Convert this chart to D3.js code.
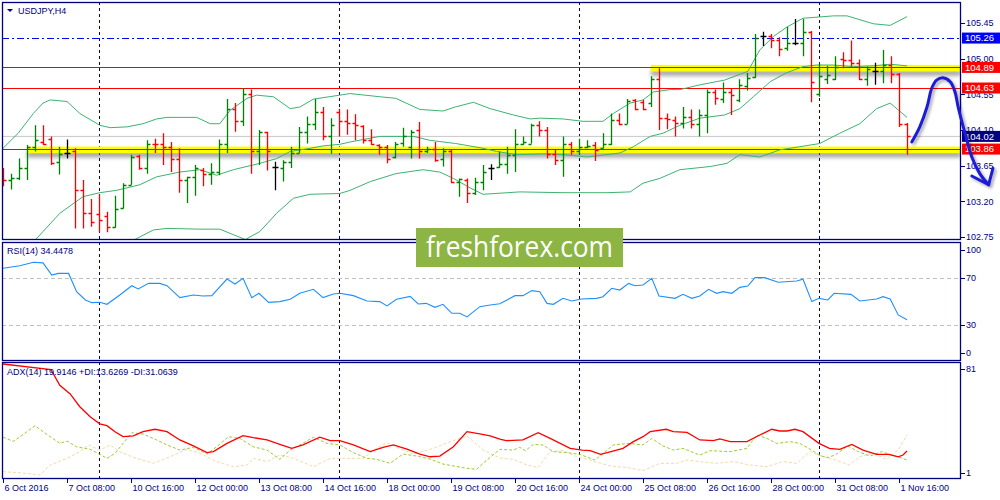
<!DOCTYPE html>
<html>
<head>
<meta charset="utf-8">
<script src="https://cdn.jsdelivr.net/npm/d3@7"></script>
<style>
body { margin: 0; background: #fff; }
svg text { font-family: "Liberation Sans", Arial, sans-serif; font-size: 9px; fill: #000080; }
</style>
</head>
<body>
<svg id="chart" width="1000" height="500"></svg>
<script>
// USDJPY H4, bars from 6 Oct 2016 00:00
var openP = [
103.60,103.47,103.49,103.62,103.89,103.95,103.99,103.70,103.81,103.83,
103.34,103.06,103.04,103.01,102.88,103.12,103.41,103.77,103.62,103.93,
103.93,103.89,103.73,103.47,103.51,103.60,103.55,103.57,103.92,104.37,
104.21,104.56,103.83,104.07,103.64,103.62,103.70,103.81,104.07,104.18,
104.33,104.02,104.33,104.21,104.19,104.15,103.97,103.91,103.89,103.76,
103.94,103.89,104.10,103.83,103.86,103.73,103.83,103.44,103.47,103.31,
103.45,103.62,103.64,103.67,103.79,103.93,103.93,104.16,104.10,103.80,
103.72,103.92,103.83,103.89,103.91,103.87,103.92,104.23,104.18,104.48,
104.45,104.44,104.75,104.25,104.23,104.19,104.26,104.18,104.29,104.58,
104.49,104.58,104.48,104.66,104.77,105.28,105.28,105.24,105.13,105.20,
105.20,105.34,104.55,104.74,104.75,105.00,104.98,104.94,104.74,104.84,
104.84,104.92,104.81,104.18];
var highP = [
103.62,103.55,103.74,103.91,104.16,104.16,104.02,103.89,103.98,103.87,
103.47,103.23,103.29,103.07,103.27,103.43,103.79,103.79,103.97,103.99,
104.06,103.95,103.87,103.51,103.66,103.62,103.68,103.98,104.49,104.44,
104.63,104.61,104.10,104.08,103.70,103.72,103.89,104.14,104.27,104.49,
104.39,104.25,104.37,104.36,104.30,104.16,104.11,103.92,103.91,103.95,
104.13,104.10,104.20,103.89,103.95,103.87,103.85,103.49,103.49,103.50,
103.66,103.67,103.83,103.89,104.11,104.02,104.18,104.21,104.14,103.86,
104.02,103.95,103.99,103.97,103.95,104.06,104.31,104.31,104.49,104.49,
104.48,104.78,104.88,104.31,104.27,104.39,104.36,104.36,104.61,104.61,
104.70,104.63,104.74,104.82,105.31,105.34,105.31,105.27,105.40,105.50,
105.50,105.35,104.94,104.91,105.03,105.08,105.23,104.99,104.90,104.95,
105.11,105.03,104.82,104.19];
var lowP = [
103.39,103.35,103.47,103.47,103.83,103.91,103.66,103.54,103.74,102.86,
102.86,102.88,102.81,102.81,102.87,103.11,103.41,103.60,103.55,103.81,
103.66,103.57,103.31,103.18,103.27,103.39,103.41,103.53,103.81,104.08,
104.15,103.55,103.66,103.59,103.34,103.45,103.62,103.81,103.93,104.10,
103.97,103.80,104.02,104.04,103.97,103.93,103.91,103.79,103.68,103.74,
103.89,103.74,103.74,103.81,103.70,103.64,103.43,103.26,103.18,103.28,
103.34,103.47,103.62,103.55,103.57,103.91,103.93,104.02,103.74,103.66,
103.51,103.79,103.79,103.87,103.71,103.87,103.91,104.16,104.18,104.35,
104.35,104.39,104.10,104.11,104.02,104.12,104.12,104.02,104.06,104.42,
104.44,104.29,104.45,104.60,104.76,105.16,105.13,105.03,105.10,105.17,
105.03,104.45,104.52,104.68,104.73,104.88,104.90,104.73,104.66,104.67,
104.69,104.69,104.14,103.79];
var closeP = [
103.47,103.49,103.62,103.89,103.97,103.93,103.69,103.80,103.81,103.34,
103.06,102.94,102.97,102.88,103.11,103.41,103.76,103.62,103.93,103.92,
103.89,103.73,103.47,103.51,103.62,103.55,103.57,103.92,104.36,104.21,
104.56,103.83,104.08,103.83,103.64,103.70,103.81,104.08,104.18,104.33,
104.02,104.16,104.21,104.19,104.16,103.97,103.92,103.89,103.74,103.93,
104.02,104.08,103.84,103.86,103.72,103.83,103.44,103.48,103.30,103.45,
103.57,103.62,103.67,103.79,103.93,103.95,104.16,104.10,103.80,103.72,
103.92,103.83,103.89,103.90,103.85,103.93,104.23,104.18,104.47,104.37,
104.37,104.75,104.25,104.24,104.19,104.26,104.18,104.29,104.58,104.50,
104.58,104.54,104.67,104.76,105.26,105.28,105.24,105.12,105.20,105.20,
105.34,104.71,104.78,104.79,104.90,104.98,104.94,104.75,104.87,104.84,
104.92,104.81,104.18,104.02];

// Bollinger bands: [bar, price]
var bbUpper = [[0,103.87],[1.9,104.06],[3.8,104.31],[5,104.44],[5.9,104.48],[8,104.46],[9.6,104.31],[12.1,104.16],[13.4,104.13],[15.5,104.14],[17.5,104.18],[19.2,104.24],[20.5,104.26],[24.2,104.26],[25.9,104.18],[27.1,104.18],[28.4,104.35],[30.5,104.50],[31.7,104.54],[33.8,104.52],[35.9,104.37],[37.1,104.39],[38.8,104.49],[42.1,104.54],[43.4,104.56],[47.1,104.52],[49.1,104.50],[52.1,104.36],[55,104.34],[56.5,104.39],[58.8,104.45],[60.9,104.37],[63.8,104.29],[65.9,104.24],[67.1,104.25],[70,104.24],[72.5,104.21],[75,104.21],[76.3,104.31],[78.4,104.44],[80,104.48],[81.3,104.58],[83.4,104.61],[84.6,104.61],[87.1,104.67],[90.2,104.73],[93.1,104.84],[94.6,105.11],[96.3,105.28],[98,105.40],[100,105.51],[103.8,105.54],[105.5,105.54],[108.8,105.44],[110.9,105.42],[113,105.53]];
var bbMiddle = [[4,102.71],[7.1,103.05],[10,103.26],[12.1,103.31],[14.2,103.34],[17.1,103.41],[19.2,103.51],[22.1,103.57],[24.6,103.60],[26.7,103.53],[28.8,103.60],[32.1,103.68],[34.2,103.74],[35.9,103.83],[38.4,103.87],[40,103.90],[42.1,103.92],[43.4,103.95],[47.1,104.02],[51.3,104.02],[53.4,103.97],[56.6,103.93],[60,103.87],[61.7,103.83],[64.2,103.79],[68,103.80],[70.1,103.79],[73,103.76],[75.5,103.79],[77.1,103.81],[78.8,103.89],[80.9,104.02],[82.5,104.06],[84.6,104.16],[87.1,104.25],[90.2,104.29],[92.1,104.37],[93.8,104.52],[95.9,104.71],[97.9,104.82],[100,104.90],[101.7,104.92],[103.8,104.92],[106.3,104.90],[108.8,104.91],[110.9,104.93],[113,104.91]];
var bbLower = [[16.3,102.71],[18.8,102.84],[20.5,102.86],[24.6,102.85],[27.1,102.85],[28.8,102.78],[30.3,102.72],[32.1,102.82],[34.2,103.05],[36.3,103.24],[38.4,103.29],[42.1,103.30],[43.4,103.34],[45.9,103.45],[49.1,103.55],[52.5,103.60],[54.6,103.57],[56.3,103.49],[58.4,103.37],[60,103.29],[64.6,103.32],[70,103.31],[75.5,103.31],[78.4,103.32],[80,103.43],[82.1,103.49],[84.6,103.60],[88.4,103.64],[90.5,103.68],[92.1,103.79],[94.6,103.76],[97.1,103.85],[99.6,103.89],[102.1,103.93],[104.6,104.06],[107.1,104.18],[109.2,104.37],[110.9,104.44],[113,104.26]];

var rsiPts = [[0,78.4],[2.1,80.6],[3.8,83.5],[5,83],[6.1,72.6],[6.9,74],[8.2,74],[9.2,58.4],[10.3,51.3],[11.1,49],[12.1,49.3],[13,47.6],[14.6,55.6],[16.1,63.5],[16.9,60.7],[18.2,65.5],[19.6,65.5],[20.5,63.5],[22.1,53.3],[23.8,55.6],[25,54.7],[26.1,55],[28,69.2],[29,64.9],[30,69.8],[31.1,53.3],[32,57],[33.2,49.3],[34.6,49.9],[35.9,51.9],[37.1,57],[38.8,60.4],[40,53.3],[41.3,56.4],[42.1,57],[43.8,55],[45.5,50.4],[47.1,49.9],[48,46.2],[49.2,51.9],[50.9,54.4],[51.9,47.9],[52.9,48.4],[54,45],[55,47.6],[56.1,39.9],[57.1,39.9],[58,36.8],[59.6,45.6],[60.9,47],[62.1,48],[63,51.3],[64,55],[65,55],[66.1,59.3],[67.1,58.4],[68,48.4],[68.8,47.6],[70,52.7],[71.1,50.4],[72.3,52.1],[74.2,52.7],[75,54.1],[76.1,61.3],[77.1,59.8],[78.2,65.5],[79,63.5],[80,64.1],[81.1,69.8],[82,54.7],[84,52.7],[85,56.1],[86.1,52.7],[87.1,54.7],[88.2,60.4],[89.2,57],[90,58.4],[91.1,57],[92.1,62.1],[93.1,63.2],[94,70.4],[95.2,70.4],[96.9,66.4],[99.2,67.5],[100,69],[101.1,49.9],[102,52.7],[103.1,51.3],[103.9,57],[106,56.1],[107.1,50.4],[109.2,52.1],[110,54.1],[110.9,52.1],[111.9,38.5],[113,34.4]];

var adxPts = [[0,81],[6,77],[7.1,66],[8.4,60],[9.6,51],[10.9,44],[12.1,39],[13,37.7],[14,33.5],[15,30],[16.3,30.5],[17.5,33.5],[19,35.2],[20.5,33.5],[22.1,27.7],[23.8,23.5],[25.5,18.8],[26.3,19.5],[28,25.3],[30,30.7],[31.3,29.3],[33,27.7],[34.6,24.6],[36.1,21.8],[37.5,24.2],[39.6,29.6],[40.9,27.2],[42.1,27.2],[43.8,24.2],[45.9,19.5],[47.5,22.5],[48.8,24.2],[50.5,21.3],[52.1,17.8],[53.4,15.9],[54.6,16.4],[56.3,22.9],[58,33.5],[59.6,31.9],[60.9,30.5],[62.1,28.2],[62.9,27.2],[65,27.7],[66.9,32.8],[68.4,28.8],[70.9,21.8],[72.4,20.6],[73.4,20.2],[74.7,17.6],[76,19.5],[77.5,21.8],[78.8,26.5],[80,30],[80.9,33.5],[82.9,35.2],[83.8,33.5],[85.5,33],[87.1,27.7],[88.8,27.2],[89.6,28.4],[90.9,26.5],[93,26.5],[94.6,31.2],[96.1,35.2],[97.1,34],[98,34],[99,35.2],[100,33.5],[102,25.3],[103.3,21.8],[104.6,21.1],[106.1,24.6],[107.5,20.6],[109.2,17.6],[110.7,17.6],[111.9,15.9],[112.5,17.1],[113,19.9]];
var plusDiPts = [[0,29.6],[1.3,26.7],[2.5,31.4],[4,37.7],[5,33.5],[7.1,25.3],[8,26.9],[9.2,22.9],[10.9,21.1],[12.1,17.6],[13,14.8],[14,18.3],[15,25.3],[16.1,32.8],[17.5,31.9],[19.2,27.7],[20.5,24.2],[22.1,20.6],[23.8,22.5],[25.5,17.8],[26.7,22.9],[28.2,30],[29.6,28.8],[31.3,22.9],[33,20.6],[34.6,14.1],[35.9,20.6],[37.1,24.2],[38.8,29.6],[40.5,25.3],[42.1,24.2],[43.8,18.8],[45.5,14.8],[46.7,14.1],[48.4,11.3],[50,17.8],[51.7,16.4],[53.4,14.3],[55,10.8],[58,7.8],[59.2,7.1],[60,11.3],[62.1,21.1],[63.8,20.6],[64.6,22.5],[65.3,20.2],[66.3,24.6],[67.5,24.2],[68.8,19.5],[70.5,18.8],[72.1,17.6],[74,13.6],[76.3,24.2],[78.3,25.3],[80,24.2],[81.1,28.8],[82.5,23.5],[83.8,20.6],[85,21.8],[87.1,17.1],[88.4,20.2],[90.9,19.5],[93,21.8],[94.2,31.2],[95.5,28.8],[96.7,25.3],[98.4,26.5],[99.6,25.3],[101.1,20.6],[102,17.1],[103,15.2],[104,17.1],[105.6,23.5],[106.9,19.5],[108.4,16.4],[109.8,19.5],[110.9,17.6],[111.9,15.9],[113,13.6]];
var minusDiPts = [[0,5.4],[2.1,4.7],[4.6,3.1],[5.9,10.1],[8,14.8],[9.6,19.5],[10.7,24.2],[12.1,20.6],[13.4,24.2],[14.6,19.5],[16.3,15.5],[18.8,11.3],[20.9,16],[23,21.1],[24.6,18.3],[26.7,12.5],[28.8,8.9],[30.5,10.1],[31.3,14.8],[33,12.5],[34.6,17.1],[36.3,14.8],[38.8,8.9],[40.9,14.8],[42.5,14.8],[45,14.8],[46.7,21.8],[48,25.8],[49.2,22.5],[51.3,17.8],[53.8,21.8],[55.9,26.5],[58,30.5],[60,20.6],[62.1,15],[63.8,14.1],[65.5,10.1],[66.9,8.4],[68.4,19.5],[70,20.2],[71.7,16],[73.4,13.6],[75.9,9.4],[78,8.4],[80,6.1],[82.1,11.3],[84.2,11.3],[85.5,13.6],[87.1,12.5],[89.2,11.3],[91.3,12.5],[93.4,10.1],[95.5,8.9],[97.5,12.5],[99.2,11.3],[100.9,19.5],[102,17.1],[103.8,14.1],[105.8,10.1],[107.1,16],[108.8,18.3],[110.4,14.1],[111.9,20.6],[113,31.1]];

var priceTicks = [105.45, 105.00, 104.55, 104.10, 103.65, 103.20, 102.75];
var rsiTicks = [100, 70, 30, 0];
var adxTicks = [81, 1];
var timeLabels = ["6 Oct 2016","7 Oct 08:00","10 Oct 16:00","12 Oct 00:00","13 Oct 08:00","14 Oct 16:00","18 Oct 00:00","19 Oct 08:00","20 Oct 16:00","24 Oct 00:00","25 Oct 08:00","26 Oct 16:00","28 Oct 00:00","31 Oct 08:00","1 Nov 16:00"];
var weekStartBars = [12, 42, 72, 102];

var redLevels = [104.89, 104.63, 103.86];
var blueLevel = 105.26;
var bidLevel = 104.02;
var zonePrices = [103.86, 104.89];
var zoneStartBars = [3, 81];
// hand drawn forecast arrow, [bar, price]
var forecastPts = [[113.6,103.95],[114.6,104.14],[115.5,104.39],[116.1,104.63],[116.7,104.73],[117.5,104.76],[118.4,104.71],[119.0,104.58],[119.4,104.39],[120.25,104.06],[121.1,103.76],[122.1,103.55],[123.2,103.41]];
var forecastHead = [[121.1,103.52],[123.2,103.41],[123.75,103.62]];

init();

function init() {
    var svg = d3.select("#chart");
    var left = 2, right = 961;
    var x = d3.scaleLinear().domain([0, 113]).range([3, 907]);
    var yP = d3.scaleLinear().domain([102.75, 105.45]).range([237.1, 23]);
    var yR = d3.scaleLinear().domain([0, 100]).range([360, 243]);
    var yA = d3.scaleLinear().domain([1, 81]).range([478, 364]);
    var panels = [{id: "cp", top: 2, bottom: 240}, {id: "cr", top: 242, bottom: 361}, {id: "ca", top: 362, bottom: 479}];
    var navy = "#000080";

    var defs = svg.append("defs");
    panels.forEach(function(p) {
        defs.append("clipPath").attr("id", p.id).append("rect")
            .attr("x", left).attr("y", p.top).attr("width", right - left).attr("height", p.bottom - p.top);
    });
    var blur = defs.append("filter").attr("id", "soft").attr("x", "-10%").attr("y", "-200%").attr("width", "120%").attr("height", "500%");
    blur.append("feGaussianBlur").attr("stdDeviation", 2);
    var shade = defs.append("filter").attr("id", "shade").attr("x", "-20%").attr("y", "-20%").attr("width", "140%").attr("height", "140%");
    shade.append("feDropShadow").attr("dx", 2).attr("dy", 2).attr("stdDeviation", 1.5).attr("flood-color", "#000").attr("flood-opacity", 0.35);

    // week separators
    weekStartBars.forEach(function(b) {
        svg.append("line").attr("x1", Math.round(x(b)) + 0.5).attr("x2", Math.round(x(b)) + 0.5)
            .attr("y1", 2).attr("y2", 479)
            .attr("stroke", navy).attr("stroke-dasharray", "3,3").attr("stroke-width", 1);
    });

    // ---- price panel ----
    var gP = svg.append("g").attr("clip-path", "url(#cp)");
    gP.append("line").attr("x1", left).attr("x2", right).attr("y1", yP(bidLevel)).attr("y2", yP(bidLevel))
        .attr("stroke", "#c8c8c8").attr("stroke-width", 1);

    zonePrices.forEach(function(p, k) {
        var x0 = x(zoneStartBars[k]);
        gP.append("rect").attr("x", x0).attr("y", yP(p) + 3).attr("width", right - x0).attr("height", 5)
            .attr("fill", "#555").attr("opacity", 0.6).attr("filter", "url(#soft)");
        gP.append("rect").attr("x", x0).attr("y", yP(p) - 2.5).attr("width", right - x0).attr("height", 6.5)
            .attr("fill", "#ffff00");
    });
    redLevels.forEach(function(p) {
        gP.append("line").attr("x1", left).attr("x2", right).attr("y1", Math.round(yP(p)) + 0.5).attr("y2", Math.round(yP(p)) + 0.5)
            .attr("stroke", "#ff0000").attr("stroke-width", 1.2);
    });
    gP.append("line").attr("x1", left).attr("x2", right).attr("y1", Math.round(yP(blueLevel)) + 0.5).attr("y2", Math.round(yP(blueLevel)) + 0.5)
        .attr("stroke", "#0000ff").attr("stroke-width", 1.2).attr("stroke-dasharray", "7,3,2,3");

    var bandLine = d3.line().x(function(d) { return x(d[0]); }).y(function(d) { return yP(d[1]); });
    [bbUpper, bbMiddle, bbLower].forEach(function(s) {
        gP.append("path").attr("d", bandLine(s)).attr("fill", "none").attr("stroke", "#3cb371").attr("stroke-width", 1);
    });

    var bars = d3.range(openP.length);
    gP.selectAll("path.bar").data(bars).enter().append("path")
        .attr("class", "bar")
        .attr("d", function(i) {
            var bx = Math.round(x(i)) + 0.5;
            return "M" + bx + "," + yP(highP[i]) + "V" + yP(lowP[i]) +
                "M" + (bx - 3) + "," + Math.round(yP(openP[i])) + ".5H" + bx +
                "M" + bx + "," + Math.round(yP(closeP[i])) + ".5H" + (bx + 3);
        })
        .attr("fill", "none")
        .attr("stroke-width", 1.3)
        .attr("stroke", function(i) {
            if (closeP[i] > openP[i]) return "#008000";
            if (closeP[i] < openP[i]) return "#ff0000";
            return "#000000";
        });

    // ---- RSI panel ----
    var gR = svg.append("g").attr("clip-path", "url(#cr)");
    [70, 30].forEach(function(v) {
        gR.append("line").attr("x1", left).attr("x2", right).attr("y1", Math.round(yR(v)) + 0.5).attr("y2", Math.round(yR(v)) + 0.5)
            .attr("stroke", "#c0c0c0").attr("stroke-dasharray", "4,3");
    });
    var rsiLine = d3.line().x(function(d) { return x(d[0]); }).y(function(d) { return yR(d[1]); });
    gR.append("path").attr("d", rsiLine(rsiPts)).attr("fill", "none").attr("stroke", "#1e90ff").attr("stroke-width", 1.1);

    // ---- ADX panel ----
    var gA = svg.append("g").attr("clip-path", "url(#ca)");
    var adxLine = d3.line().x(function(d) { return x(d[0]); }).y(function(d) { return yA(d[1]); });
    gA.append("path").attr("d", adxLine(minusDiPts)).attr("fill", "none").attr("stroke", "#f5d9a8").attr("stroke-width", 1).attr("stroke-dasharray", "3,2");
    gA.append("path").attr("d", adxLine(plusDiPts)).attr("fill", "none").attr("stroke", "#9acd32").attr("stroke-width", 1).attr("stroke-dasharray", "3,2");
    gA.append("path").attr("d", adxLine(adxPts)).attr("fill", "none").attr("stroke", "#ff0000").attr("stroke-width", 1.3);

    // panel frames
    panels.forEach(function(p) {
        svg.append("rect").attr("x", left + 0.5).attr("y", p.top + 0.5).attr("width", right - left - 1).attr("height", p.bottom - p.top - 1)
            .attr("fill", "none").attr("stroke", navy).attr("stroke-width", 1.3);
    });

    // right axes
    function tickLabel(y, txt, tickY) {
        svg.append("line").attr("x1", right).attr("x2", right + 4).attr("y1", Math.round(tickY) + 0.5).attr("y2", Math.round(tickY) + 0.5)
            .attr("stroke", navy);
        svg.append("text").attr("x", 966).attr("y", y).attr("dy", "0.35em").text(txt);
    }
    var fmt = d3.format(".2f");
    priceTicks.forEach(function(p) { tickLabel(yP(p), fmt(p), yP(p)); });
    rsiTicks.forEach(function(v) {
        var y = Math.max(250, Math.min(353, yR(v)));
        tickLabel(y, v, y);
    });
    adxTicks.forEach(function(v) {
        var y = Math.max(369, Math.min(473, yA(v)));
        tickLabel(y, v, y);
    });

    function priceTag(p, color) {
        var y = yP(p);
        svg.append("rect").attr("x", 962).attr("y", y - 5.5).attr("width", 38).attr("height", 11).attr("fill", color);
        svg.append("text").attr("x", 965).attr("y", y).attr("dy", "0.35em").style("fill", "#fff").style("font-size", "9.5px").text(fmt(p));
    }
    priceTag(blueLevel, "#0000ff");
    priceTag(bidLevel, navy);
    redLevels.forEach(function(p) { priceTag(p, "#ff0000"); });

    // time axis
    timeLabels.forEach(function(t, k) {
        var tx = Math.round(x(k * 8)) + 0.5;
        svg.append("line").attr("x1", tx).attr("x2", tx).attr("y1", 479).attr("y2", 483).attr("stroke", navy);
        svg.append("text").attr("x", tx + 1).attr("y", 488).attr("dy", "0.35em").text(t);
    });

    // titles
    svg.append("path").attr("d", "M7,9L13,9L10,12Z").attr("fill", navy);
    svg.append("text").attr("x", 18).attr("y", 11).attr("dy", "0.35em").text("USDJPY,H4");
    svg.append("text").attr("x", 7).attr("y", 251).attr("dy", "0.35em").text("RSI(14) 34.4478");
    svg.append("text").attr("x", 7).attr("y", 372).attr("dy", "0.35em").text("ADX(14) 19.9146 +DI:13.6269 -DI:31.0639");

    // watermark
    svg.append("rect").attr("x", 416).attr("y", 228).attr("width", 207).attr("height", 39).attr("fill", "#8db543");
    svg.append("text").attr("x", 426).attr("y", 257)
        .attr("textLength", 187).attr("lengthAdjust", "spacingAndGlyphs")
        .style("font-family", "'Open Sans', sans-serif").style("font-size", "29px").style("fill", "#fff")
        .text("freshforex.com");

    // forecast arrow
    var arrowLine = d3.line().x(function(d) { return x(d[0]); }).y(function(d) { return yP(d[1]); }).curve(d3.curveCatmullRom);
    var gArrow = svg.append("g").attr("filter", "url(#shade)");
    gArrow.append("path").attr("d", arrowLine(forecastPts)).attr("fill", "none").attr("stroke", "#1c1cd8").attr("stroke-width", 3).attr("stroke-linecap", "round");
    gArrow.append("path").attr("d", d3.line().x(function(d) { return x(d[0]); }).y(function(d) { return yP(d[1]); })(forecastHead))
        .attr("fill", "none").attr("stroke", "#1c1cd8").attr("stroke-width", 3).attr("stroke-linecap", "round").attr("stroke-linejoin", "round");
}
</script>
</body>
</html>
